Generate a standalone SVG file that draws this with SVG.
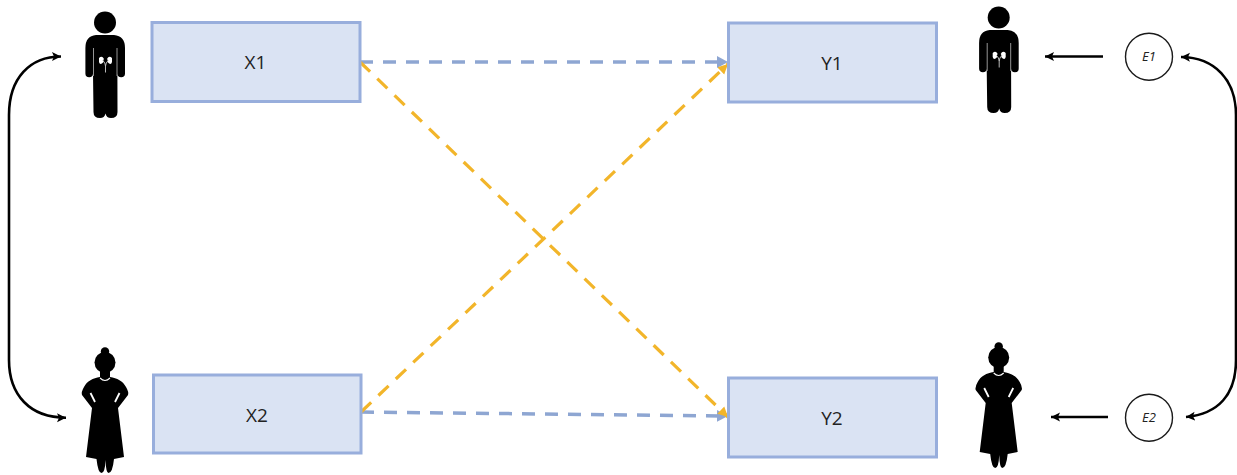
<svg xmlns="http://www.w3.org/2000/svg" width="1237" height="475" viewBox="0 0 1237 475">
<style>
.box{fill:#dae3f3;stroke:#98aedc;stroke-width:3}
.lbl{font-family:"Open Sans","Liberation Sans",sans-serif;font-size:19px;fill:#222;text-anchor:middle}
.e{fill:#fff;stroke:#1a1a1a;stroke-width:1.4}
.elbl{font-family:"Open Sans","Liberation Sans",sans-serif;font-size:13px;font-style:italic;fill:#222;text-anchor:middle}
.blue{fill:none;stroke:#8ea6d2;stroke-width:3.5;stroke-dasharray:13 10;marker-end:url(#ab)}
.gold{fill:none;stroke:#f2b52a;stroke-width:3.2;stroke-dasharray:14 10;marker-end:url(#ag)}
.blk{fill:none;stroke:#000;stroke-width:2.600;marker-end:url(#ak)}
.blkn{fill:none;stroke:#000;stroke-width:2.600}
.w{fill:none;stroke:#bbb;stroke-width:0.8}
</style>
<defs>
<marker id="ab" markerUnits="userSpaceOnUse" markerWidth="14" markerHeight="14" refX="11" refY="7" orient="auto"><path d="M0 1 L11 7 L0 13Z" fill="#8ea6d2"/></marker>
<marker id="ag" markerUnits="userSpaceOnUse" markerWidth="14" markerHeight="14" refX="10" refY="6" orient="auto"><path d="M0 1 L10 6 L0 11Z" fill="#f2b52a"/></marker>
<marker id="ak" markerUnits="userSpaceOnUse" markerWidth="12" markerHeight="12" refX="9" refY="5.500" orient="auto"><path d="M0 1 L9 5.500 L0 10 L2 5.500Z" fill="#000"/></marker>
<g id="man">
<circle cx="105" cy="22.500" r="11" fill="#000"/>
<path d="M96 35 H114 Q125 36 125 48 V73.500 a3.800 3.800 0 0 1 -7.600 0 L117.500 112 Q117.500 118 111 118 Q106.500 118 105.500 113.500 Q104.500 118 100 118 Q93.500 118 93.500 112 L93 73.500 a3.800 3.800 0 0 1 -7.600 0 V48 Q85.400 36 96 35Z" fill="#000"/>
<path class="w" d="M93.500 48 V76 M117 48 V76"/>
<path d="M99 58 Q102 55 104 59 Q102.500 60 103.500 62 Q100 66 99 62Z M112 58 Q109 55 107 59 Q108.500 60 107.500 62 Q111 66 112 62Z" fill="#fff"/>
<path d="M102.500 60 Q105.500 63 105.500 66 V72.500 M108.500 60 Q105.500 63 105.500 66" fill="none" stroke="#ccc" stroke-width="0.9"/>
</g>
<g id="woman">
<circle cx="105" cy="362.500" r="10.500" fill="#000"/>
<circle cx="105" cy="351.500" r="4.200" fill="#000"/>
<path d="M100 370 H110 V377 C117 378 123 381 126 387 Q129 392 128 395 L118 408 L124 457 L114 459 Q112.500 473 108.500 473 Q106 473 105.500 460 Q105 473 101.500 473 Q98 473 96.500 459 L86 457 L92 408 L82 395 Q81 392 84 387 C87 381 93 378 100 377Z" fill="#000"/>
<path d="M100 378 Q105 383 110 378" fill="none" stroke="#fff" stroke-width="1.100"/>
<path d="M90.500 393 L95 402 M119.500 393 L115 402" fill="none" stroke="#fff" stroke-width="1.800"/>
</g>
</defs>
<g id="connectors">
<path class="blue" d="M360 62 H728"/>
<path class="blue" d="M361 412 L728 416"/>
<path class="gold" d="M360 62 L728 417"/>
<path class="gold" d="M361 412 L728 64"/>
<path class="blk" d="M1103 56.500 H1045"/>
<path class="blk" d="M1108 417 H1051"/>
<path class="blkn" d="M9 115 V360"/>
<path class="blk" d="M9 115 C9 78 30 56.500 61 56.500"/>
<path class="blk" d="M9 360 C9 395 30 417.700 66 417.700"/>
<path class="blkn" d="M1236 115 V360"/>
<path class="blk" d="M1236 115 C1236 80 1215 57.500 1181 57"/>
<path class="blk" d="M1236 360 C1236 395 1218 414 1186 417"/>
</g>
<g id="person-m1"><use href="#man"/></g>
<g id="person-f1"><use href="#woman"/></g>
<g id="person-m2"><use href="#man" x="893.700" y="-5"/></g>
<g id="person-f2"><use href="#woman" x="893.700" y="-5"/></g>
<g id="X1"><rect class="box" x="152" y="22.500" width="208" height="79"/><text class="lbl" x="255.500" y="69">X1</text></g>
<g id="X2"><rect class="box" x="153.500" y="375" width="207.500" height="78"/><text class="lbl" x="257" y="422">X2</text></g>
<g id="Y1"><rect class="box" x="728.500" y="23" width="208" height="79"/><text class="lbl" x="832" y="70">Y1</text></g>
<g id="Y2"><rect class="box" x="728.500" y="378" width="208" height="79"/><text class="lbl" x="832" y="425">Y2</text></g>
<g id="E1"><circle class="e" cx="1149" cy="56.700" r="23.500"/><text class="elbl" x="1149" y="61">E1</text></g>
<g id="E2"><circle class="e" cx="1149" cy="417.700" r="23.500"/><text class="elbl" x="1149" y="422">E2</text></g>
</svg>
